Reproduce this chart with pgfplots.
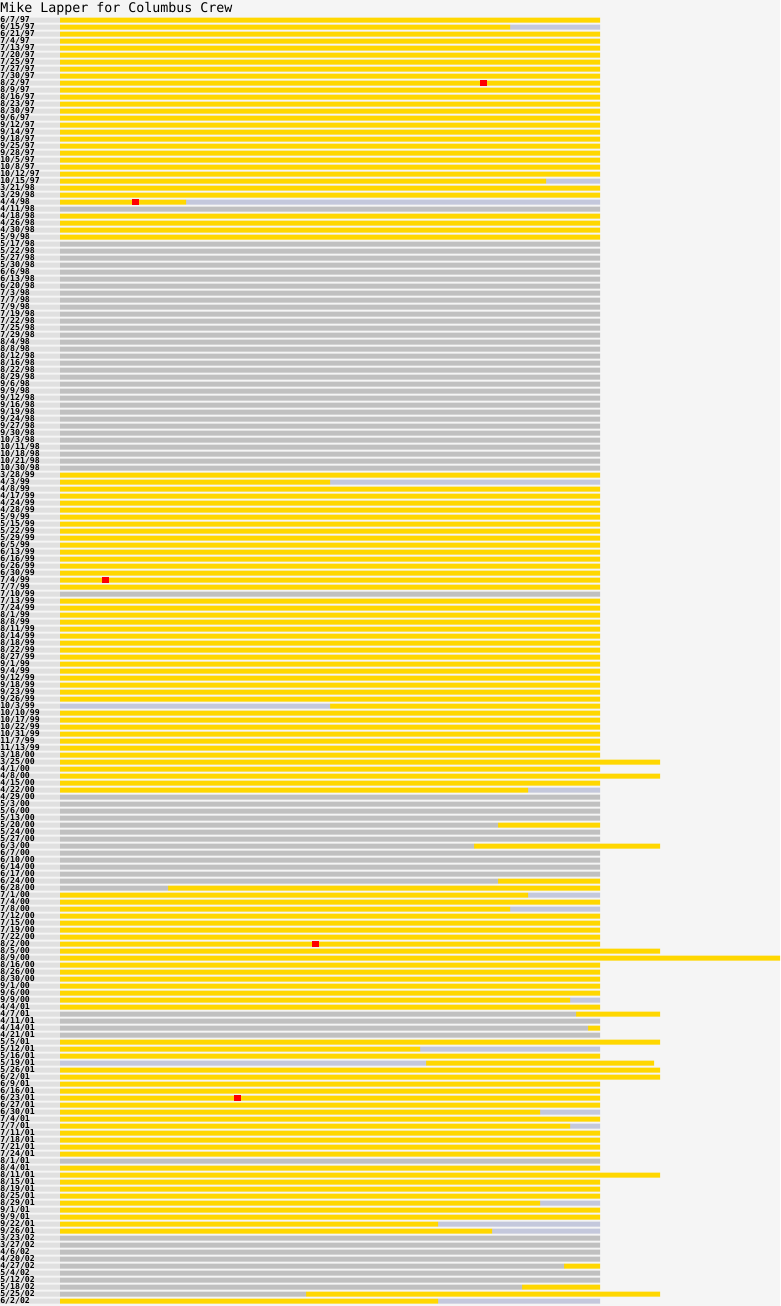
\documentclass[border=0pt]{standalone}
\usepackage{pgfplots}
\pgfplotsset{compat=1.18}
\usepackage{pgfplotstable}
\usepackage{fontspec}
\setmonofont{DejaVu Sans Mono}
\definecolor{gold}{HTML}{FFD700}
\definecolor{outgray}{HTML}{C0C0C0}
\definecolor{benchblue}{HTML}{C4C8DC}
\definecolor{labelbg}{HTML}{E0E0E0}
\definecolor{pagebg}{HTML}{F5F5F5}

% minutes per row: G1 = gold first segment, S1 = gray first, B1 = bench first,
% G2 = gold second segment, B2 = bench second segment; L = label band
\pgfplotstableread{
row G1 S1 B1 G2 B2 L
1 90 0 0 0 0 -10
2 75 0 0 0 15 -10
3 90 0 0 0 0 -10
4 90 0 0 0 0 -10
5 90 0 0 0 0 -10
6 90 0 0 0 0 -10
7 90 0 0 0 0 -10
8 90 0 0 0 0 -10
9 90 0 0 0 0 -10
10 90 0 0 0 0 -10
11 90 0 0 0 0 -10
12 90 0 0 0 0 -10
13 90 0 0 0 0 -10
14 90 0 0 0 0 -10
15 90 0 0 0 0 -10
16 90 0 0 0 0 -10
17 90 0 0 0 0 -10
18 90 0 0 0 0 -10
19 90 0 0 0 0 -10
20 90 0 0 0 0 -10
21 90 0 0 0 0 -10
22 90 0 0 0 0 -10
23 90 0 0 0 0 -10
24 81 0 0 0 9 -10
25 90 0 0 0 0 -10
26 90 0 0 0 0 -10
27 21 0 0 0 69 -10
28 0 90 0 0 0 -10
29 90 0 0 0 0 -10
30 90 0 0 0 0 -10
31 90 0 0 0 0 -10
32 90 0 0 0 0 -10
33 0 90 0 0 0 -10
34 0 90 0 0 0 -10
35 0 90 0 0 0 -10
36 0 90 0 0 0 -10
37 0 90 0 0 0 -10
38 0 90 0 0 0 -10
39 0 90 0 0 0 -10
40 0 90 0 0 0 -10
41 0 90 0 0 0 -10
42 0 90 0 0 0 -10
43 0 90 0 0 0 -10
44 0 90 0 0 0 -10
45 0 90 0 0 0 -10
46 0 90 0 0 0 -10
47 0 90 0 0 0 -10
48 0 90 0 0 0 -10
49 0 90 0 0 0 -10
50 0 90 0 0 0 -10
51 0 90 0 0 0 -10
52 0 90 0 0 0 -10
53 0 90 0 0 0 -10
54 0 90 0 0 0 -10
55 0 90 0 0 0 -10
56 0 90 0 0 0 -10
57 0 90 0 0 0 -10
58 0 90 0 0 0 -10
59 0 90 0 0 0 -10
60 0 90 0 0 0 -10
61 0 90 0 0 0 -10
62 0 90 0 0 0 -10
63 0 90 0 0 0 -10
64 0 90 0 0 0 -10
65 0 90 0 0 0 -10
66 90 0 0 0 0 -10
67 45 0 0 0 45 -10
68 90 0 0 0 0 -10
69 90 0 0 0 0 -10
70 90 0 0 0 0 -10
71 90 0 0 0 0 -10
72 90 0 0 0 0 -10
73 90 0 0 0 0 -10
74 90 0 0 0 0 -10
75 90 0 0 0 0 -10
76 90 0 0 0 0 -10
77 90 0 0 0 0 -10
78 90 0 0 0 0 -10
79 90 0 0 0 0 -10
80 90 0 0 0 0 -10
81 90 0 0 0 0 -10
82 90 0 0 0 0 -10
83 0 90 0 0 0 -10
84 90 0 0 0 0 -10
85 90 0 0 0 0 -10
86 90 0 0 0 0 -10
87 90 0 0 0 0 -10
88 90 0 0 0 0 -10
89 90 0 0 0 0 -10
90 90 0 0 0 0 -10
91 90 0 0 0 0 -10
92 90 0 0 0 0 -10
93 90 0 0 0 0 -10
94 90 0 0 0 0 -10
95 90 0 0 0 0 -10
96 90 0 0 0 0 -10
97 90 0 0 0 0 -10
98 90 0 0 0 0 -10
99 0 0 45 45 0 -10
100 90 0 0 0 0 -10
101 90 0 0 0 0 -10
102 90 0 0 0 0 -10
103 90 0 0 0 0 -10
104 90 0 0 0 0 -10
105 90 0 0 0 0 -10
106 90 0 0 0 0 -10
107 100 0 0 0 0 -10
108 90 0 0 0 0 -10
109 100 0 0 0 0 -10
110 90 0 0 0 0 -10
111 78 0 0 0 12 -10
112 0 90 0 0 0 -10
113 0 90 0 0 0 -10
114 0 90 0 0 0 -10
115 0 90 0 0 0 -10
116 0 73 0 17 0 -10
117 0 90 0 0 0 -10
118 0 90 0 0 0 -10
119 0 69 0 31 0 -10
120 0 90 0 0 0 -10
121 0 90 0 0 0 -10
122 0 90 0 0 0 -10
123 0 90 0 0 0 -10
124 0 73 0 17 0 -10
125 0 18 0 72 0 -10
126 78 0 0 0 12 -10
127 90 0 0 0 0 -10
128 75 0 0 0 15 -10
129 90 0 0 0 0 -10
130 90 0 0 0 0 -10
131 90 0 0 0 0 -10
132 90 0 0 0 0 -10
133 90 0 0 0 0 -10
134 100 0 0 0 0 -10
135 120 0 0 0 0 -10
136 90 0 0 0 0 -10
137 90 0 0 0 0 -10
138 90 0 0 0 0 -10
139 90 0 0 0 0 -10
140 90 0 0 0 0 -10
141 85 0 0 0 5 -10
142 90 0 0 0 0 -10
143 0 86 0 14 0 -10
144 0 90 0 0 0 -10
145 0 88 0 2 0 -10
146 0 90 0 0 0 -10
147 100 0 0 0 0 -10
148 60 0 0 0 30 -10
149 90 0 0 0 0 -10
150 0 0 61 38 0 -10
151 100 0 0 0 0 -10
152 100 0 0 0 0 -10
153 90 0 0 0 0 -10
154 90 0 0 0 0 -10
155 90 0 0 0 0 -10
156 90 0 0 0 0 -10
157 80 0 0 0 10 -10
158 90 0 0 0 0 -10
159 85 0 0 0 5 -10
160 90 0 0 0 0 -10
161 90 0 0 0 0 -10
162 90 0 0 0 0 -10
163 90 0 0 0 0 -10
164 0 90 0 0 0 -10
165 90 0 0 0 0 -10
166 100 0 0 0 0 -10
167 90 0 0 0 0 -10
168 90 0 0 0 0 -10
169 90 0 0 0 0 -10
170 80 0 0 0 10 -10
171 90 0 0 0 0 -10
172 90 0 0 0 0 -10
173 63 0 0 0 27 -10
174 72 0 0 0 18 -10
175 0 90 0 0 0 -10
176 0 90 0 0 0 -10
177 0 90 0 0 0 -10
178 0 90 0 0 0 -10
179 0 84 0 6 0 -10
180 0 90 0 0 0 -10
181 0 90 0 0 0 -10
182 0 77 0 13 0 -10
183 0 41 0 59 0 -10
184 63 0 0 0 27 -10
}\minutes

\pgfplotstableread{
row minute
10 70.5
27 12.5
81 7.5
133 42.5
155 29.5
}\goals

\newcommand{\datelabels}{6/7/97,6/15/97,6/21/97,7/4/97,7/13/97,7/20/97,7/25/97,7/27/97,7/30/97,8/2/97,8/9/97,8/16/97,8/23/97,8/30/97,9/6/97,9/12/97,9/14/97,9/18/97,9/25/97,9/28/97,10/5/97,10/8/97,10/12/97,10/15/97,3/21/98,3/29/98,4/4/98,4/11/98,4/18/98,4/26/98,4/30/98,5/9/98,5/17/98,5/22/98,5/27/98,5/30/98,6/6/98,6/13/98,6/20/98,7/3/98,7/7/98,7/9/98,7/19/98,7/22/98,7/25/98,7/29/98,8/4/98,8/8/98,8/12/98,8/16/98,8/22/98,8/29/98,9/6/98,9/9/98,9/12/98,9/16/98,9/19/98,9/24/98,9/27/98,9/30/98,10/3/98,10/11/98,10/18/98,10/21/98,10/30/98,3/28/99,4/3/99,4/8/99,4/17/99,4/24/99,4/28/99,5/9/99,5/15/99,5/22/99,5/29/99,6/5/99,6/13/99,6/16/99,6/26/99,6/30/99,7/4/99,7/7/99,7/10/99,7/13/99,7/24/99,8/1/99,8/8/99,8/11/99,8/14/99,8/18/99,8/22/99,8/27/99,9/1/99,9/4/99,9/12/99,9/18/99,9/23/99,9/26/99,10/3/99,10/10/99,10/17/99,10/22/99,10/31/99,11/7/99,11/13/99,3/18/00,3/25/00,4/1/00,4/8/00,4/15/00,4/22/00,4/29/00,5/3/00,5/6/00,5/13/00,5/20/00,5/24/00,5/27/00,6/3/00,6/7/00,6/10/00,6/14/00,6/17/00,6/24/00,6/28/00,7/1/00,7/4/00,7/8/00,7/12/00,7/15/00,7/19/00,7/22/00,8/2/00,8/5/00,8/9/00,8/16/00,8/26/00,8/30/00,9/1/00,9/6/00,9/9/00,4/4/01,4/7/01,4/11/01,4/14/01,4/21/01,5/5/01,5/12/01,5/16/01,5/19/01,5/26/01,6/2/01,6/9/01,6/16/01,6/23/01,6/27/01,6/30/01,7/4/01,7/7/01,7/11/01,7/18/01,7/21/01,7/24/01,8/1/01,8/4/01,8/11/01,8/15/01,8/19/01,8/25/01,8/29/01,9/1/01,9/9/01,9/22/01,9/26/01,3/23/02,3/27/02,4/6/02,4/20/02,4/27/02,5/4/02,5/12/02,5/18/02,5/25/02,6/2/02}

\pgfplotsset{
  rowaxis/.style={
    scale only axis, width=780pt, height=1306pt,
    xmin=-10, xmax=120,
    ymin=-1.857143, ymax=184.714286, y dir=reverse,
    axis line style={draw=none}, major tick length=0pt,
    bar width=5pt,
  }
}

\begin{document}
\begin{tikzpicture}
\begin{axis}[rowaxis, xbar, xtick=\empty, ytick=\empty,
  axis background/.style={fill=pagebg}]
\addplot[fill=labelbg, draw=none] table[x=L, y=row] {\minutes};
\end{axis}
\begin{axis}[rowaxis, xbar stacked, xtick=\empty,
  ytick={1,...,184}, yticklabels/.expanded={\datelabels},
  yticklabel style={anchor=west, inner sep=0pt, xshift=0pt,
    font=\fontsize{8.2}{8.2}\selectfont\ttfamily\bfseries, text=black},
  clip=false]
\addplot[fill=gold, draw=none] table[x=G1, y=row] {\minutes};
\addplot[fill=outgray, draw=none] table[x=S1, y=row] {\minutes};
\addplot[fill=benchblue, draw=none] table[x=B1, y=row] {\minutes};
\addplot[fill=gold, draw=none] table[x=G2, y=row] {\minutes};
\addplot[fill=benchblue, draw=none] table[x=B2, y=row] {\minutes};
\node[anchor=base west, inner sep=0pt, font=\fontsize{13.3}{13.3}\selectfont\ttfamily]
  at ([yshift=-12pt]axis description cs:0,1) {Mike Lapper for Columbus Crew};
\end{axis}
\begin{axis}[rowaxis, hide axis]
\addplot[only marks, mark=square*, mark size=2.6pt, color=red] table[x=minute, y=row] {\goals};
\end{axis}
\end{tikzpicture}
\end{document}
